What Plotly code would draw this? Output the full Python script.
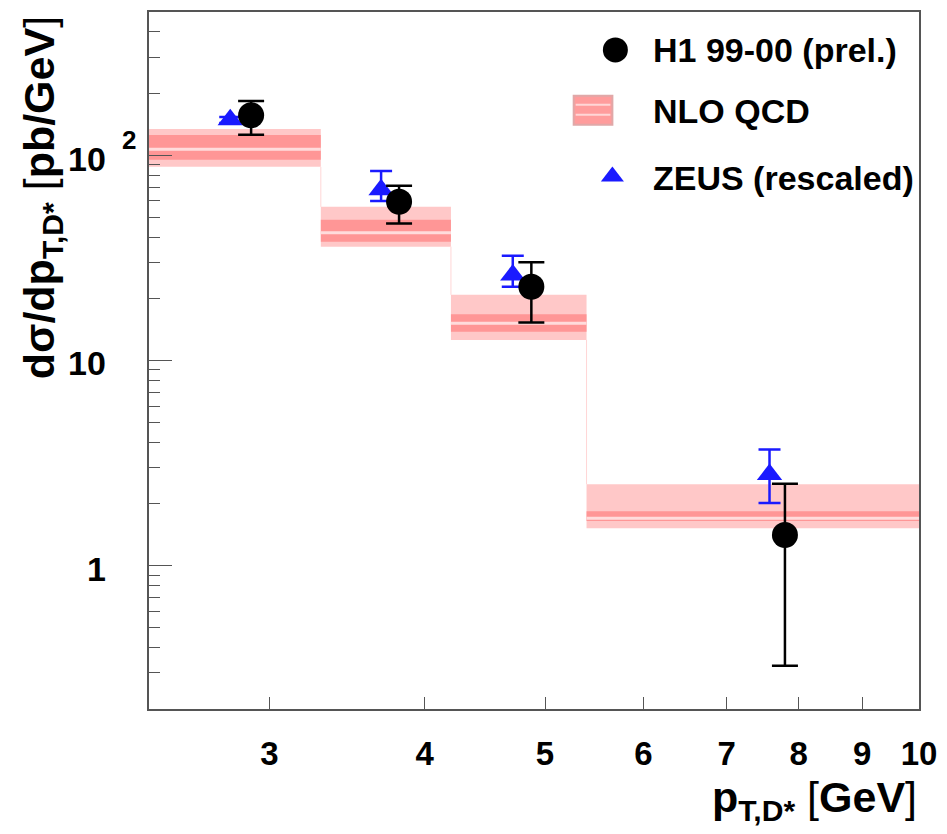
import math
import plotly.graph_objects as go

# ---- data -------------------------------------------------------------
# pT bin edges [GeV]
bin_edges = [2.4, 3.3, 4.2, 5.4, 10.0]

# NLO QCD prediction per bin: outer band, inner band, central value [pb/GeV]
nlo_outer_hi = [134.6, 56.1, 20.9, 2.49]
nlo_outer_lo = [87.9, 35.9, 12.6, 1.52]
nlo_inner_hi = [125.8, 48.5, 16.8, 1.84]
nlo_inner_lo = [95.1, 37.9, 13.8, 1.65]
nlo_central = [107.0, 42.0, 15.2, 1.70]

# H1 99-00 (prel.)
h1_pt = [2.90, 3.815, 4.875, 7.80]
h1_xs = [157.0, 59.4, 22.9, 1.41]
h1_err_up = [184.0, 71.2, 30.1, 2.51]
h1_err_dn = [126.0, 46.6, 15.3, 0.325]

# ZEUS (rescaled)
zeus_pt = [2.79, 3.69, 4.71, 7.58]
zeus_xs = [149.0, 68.0, 26.1, 2.78]
zeus_err_up = [154.0, 83.8, 32.4, 3.68]
zeus_err_dn = [144.0, 60.0, 22.9, 2.02]

x_ticks = [3, 4, 5, 6, 7, 8, 9, 10]
x_tick_text = ["3", "4", "5", "6", "7", "8", "9", "10"]
y_minor = [0.2, 0.3, 0.4, 0.5, 0.6, 0.7, 0.8, 0.9,
           2, 3, 4, 5, 6, 7, 8, 9,
           20, 30, 40, 50, 60, 70, 80, 90,
           200, 300, 400, 500]

FONT = "Liberation Sans, Arial, Helvetica, sans-serif"
C_OUTER = "#ffc8c8"
C_INNER = "#ff9696"
C_LINE = "#ffdcdc"

fig = go.Figure()

# ---- NLO QCD bands ----------------------------------------------------
for i in range(len(nlo_central)):
    x0, x1 = bin_edges[i], bin_edges[i + 1]
    fig.add_trace(go.Scatter(
        x=[x0, x1, x1, x0, x0],
        y=[nlo_outer_lo[i], nlo_outer_lo[i], nlo_outer_hi[i], nlo_outer_hi[i], nlo_outer_lo[i]],
        mode="lines", fill="toself", fillcolor=C_OUTER,
        line=dict(width=0), hoverinfo="skip", showlegend=False))
    fig.add_trace(go.Scatter(
        x=[x0, x1, x1, x0, x0],
        y=[nlo_inner_lo[i], nlo_inner_lo[i], nlo_inner_hi[i], nlo_inner_hi[i], nlo_inner_lo[i]],
        mode="lines", fill="toself", fillcolor=C_INNER,
        line=dict(width=0), hoverinfo="skip", showlegend=False))
    fig.add_trace(go.Scatter(
        x=[x0, x1], y=[nlo_central[i], nlo_central[i]],
        mode="lines", line=dict(color=C_LINE, width=3),
        hoverinfo="skip", showlegend=False))

# faint step outline joining neighbouring bins
for i in range(1, len(nlo_central)):
    fig.add_trace(go.Scatter(
        x=[bin_edges[i], bin_edges[i]],
        y=[nlo_outer_lo[i - 1], nlo_outer_hi[i]],
        mode="lines", line=dict(color="#ffd6d6", width=1),
        hoverinfo="skip", showlegend=False))

# ---- ZEUS points ------------------------------------------------------
fig.add_trace(go.Scatter(
    x=zeus_pt, y=zeus_xs, mode="markers",
    marker=dict(symbol="triangle-up", size=22, color="#1a1aff"),
    error_y=dict(type="data", symmetric=False,
                 array=[u - v for u, v in zip(zeus_err_up, zeus_xs)],
                 arrayminus=[v - d for v, d in zip(zeus_xs, zeus_err_dn)],
                 color="#1a1aff", thickness=2.5, width=11),
    showlegend=False))

# ---- H1 points --------------------------------------------------------
fig.add_trace(go.Scatter(
    x=h1_pt, y=h1_xs, mode="markers",
    marker=dict(symbol="circle", size=26, color="black"),
    error_y=dict(type="data", symmetric=False,
                 array=[u - v for u, v in zip(h1_err_up, h1_xs)],
                 arrayminus=[v - d for v, d in zip(h1_xs, h1_err_dn)],
                 color="black", thickness=2.5, width=13),
    showlegend=False))

# ---- legend (drawn on a pixel-scaled overlay axis) ---------------------
fig.add_trace(go.Scatter(
    x=[619], y=[48], mode="markers", xaxis="x2", yaxis="y2",
    marker=dict(symbol="circle", size=25, color="black"),
    hoverinfo="skip", showlegend=False))
fig.add_trace(go.Scatter(
    x=[616], y=[175], mode="markers", xaxis="x2", yaxis="y2",
    marker=dict(symbol="triangle-up", size=20, color="#1a1aff"),
    hoverinfo="skip", showlegend=False))

shapes = [
    dict(type="rect", xref="x2", yref="y2", x0=577, x1=616, y0=94, y1=123,
         fillcolor="#ff9c9c", line=dict(color="#e0a8a8", width=2), layer="above"),
    dict(type="line", xref="x2", yref="y2", x0=579, x1=614, y0=103, y1=103,
         line=dict(color="#ffd6d6", width=2), layer="above"),
    dict(type="line", xref="x2", yref="y2", x0=579, x1=614, y0=113, y1=113,
         line=dict(color="#ffd6d6", width=2), layer="above"),
]

legend_items = [("H1 99-00 (prel.)", 48), ("NLO QCD", 109), ("ZEUS (rescaled)", 176)]
annotations = []
for label, ypx in legend_items:
    annotations.append(dict(
        text=label, xref="x2", yref="y2", x=655, y=ypx,
        xanchor="left", yanchor="middle", showarrow=False,
        font=dict(family=FONT, size=34, color="black", weight="bold")))

# ---- y tick labels (ROOT style exponent) --------------------------------
for val, txt, shift in [(1, "1", -3), (10, "10", -2), (100, "10", -4)]:
    annotations.append(dict(
        text=txt, xref="paper", yref="y", x=(108 - 149) / 776, y=math.log10(val),
        xanchor="right", yanchor="middle", yshift=shift, showarrow=False,
        font=dict(family=FONT, size=34, color="black", weight="bold")))
annotations.append(dict(
    text="2", xref="paper", yref="y", x=(120 - 149) / 776, y=math.log10(100),
    xanchor="left", yanchor="middle", yshift=15, showarrow=False,
    font=dict(family=FONT, size=26, color="black", weight="bold")))

# ---- axis titles ------------------------------------------------------
annotations.append(dict(
    text="<b>dσ/dp<sub>T,D*</sub></b> [<b>pb/GeV</b>]",
    xref="paper", yref="paper", x=(42 - 149) / 776, y=(709 - 196) / 699,
    xanchor="center", yanchor="middle", textangle=-90, showarrow=False,
    font=dict(family=FONT, size=43, color="black")))
annotations.append(dict(
    text="<b>p<sub>T,D*</sub></b> [<b>GeV</b>]",
    xref="paper", yref="paper", x=1.0, y=(709 - 800) / 699,
    xanchor="right", yanchor="middle", showarrow=False,
    font=dict(family=FONT, size=43, color="black")))

AXIS_COLOR = "#555555"
fig.update_layout(
    width=947, height=834,
    margin=dict(l=149, r=22, t=10, b=125),
    paper_bgcolor="white", plot_bgcolor="white",
    showlegend=False,
    xaxis=dict(
        type="log", range=[math.log10(2.4), 1.0],
        showgrid=False, zeroline=False,
        showline=True, linecolor=AXIS_COLOR, linewidth=2, mirror=True,
        ticks="inside", ticklen=12, tickwidth=1, tickcolor=AXIS_COLOR,
        tickmode="array", tickvals=x_ticks, ticktext=x_tick_text,
        ticklabelstandoff=14,
        tickfont=dict(family=FONT, size=33, color="black", weight="bold")),
    yaxis=dict(
        type="log", range=[math.log10(0.2), math.log10(500)],
        showgrid=False, zeroline=False,
        showline=True, linecolor=AXIS_COLOR, linewidth=2, mirror=True,
        ticks="inside", ticklen=23, tickwidth=1, tickcolor=AXIS_COLOR,
        tickmode="array", tickvals=[1, 10, 100], showticklabels=False,
        minor=dict(ticks="inside", ticklen=11, tickwidth=1, tickcolor=AXIS_COLOR,
                   tickmode="array", tickvals=y_minor, showgrid=False)),
    xaxis2=dict(overlaying="x", range=[149, 925], visible=False, fixedrange=True),
    yaxis2=dict(overlaying="y", range=[709, 10], visible=False, fixedrange=True),
    shapes=shapes,
    annotations=annotations,
)

fig.write_html("out.html")
